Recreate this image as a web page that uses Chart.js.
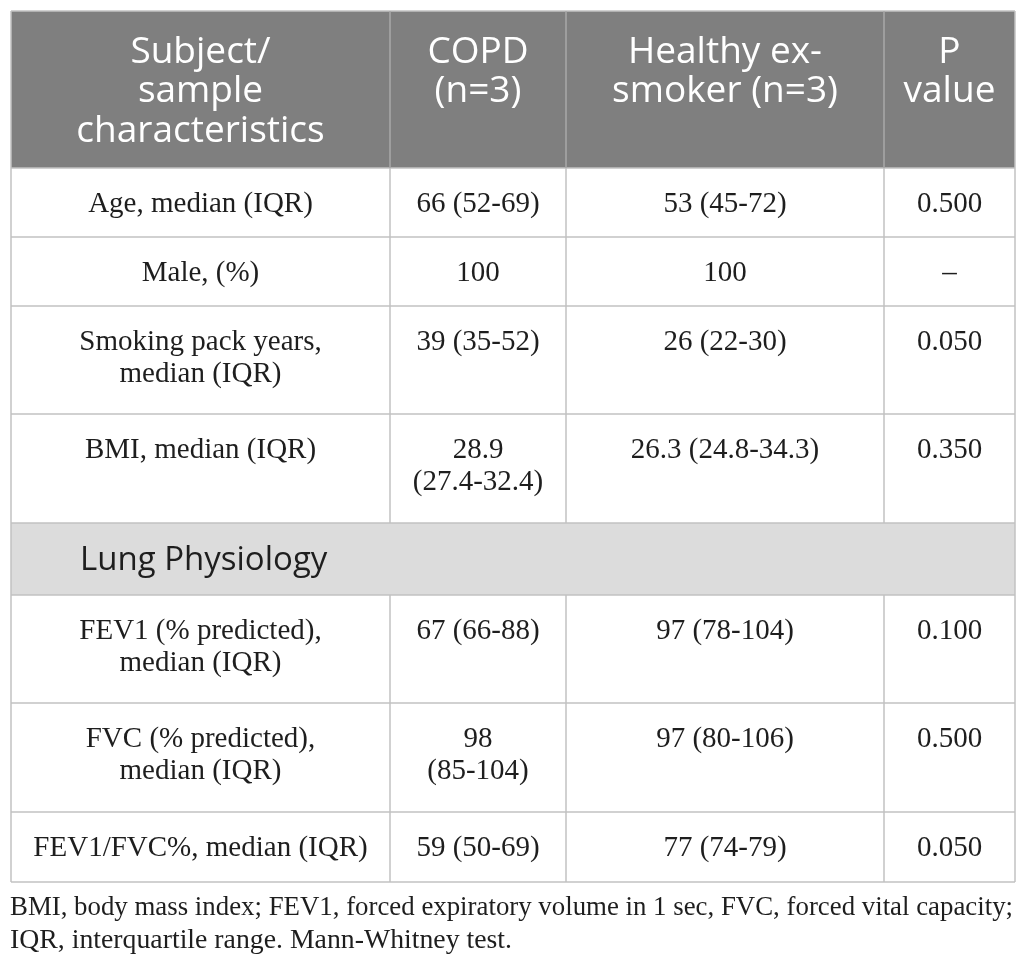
<!DOCTYPE html>
<html>
<head>
  <title>Subject and sample characteristics</title>
  <script src="https://cdn.jsdelivr.net/npm/chart.js"></script>
  <style>
    body { margin: 0; background: #fff; }
    #wrap { width: 1026px; height: 970px; position: relative; }
  </style>
</head>
<body>
  <div id="wrap"><canvas id="chart"></canvas></div>

  <script>

// table content
const headers = ['Subject/\nsample\ncharacteristics', 'COPD\n(n=3)', 'Healthy ex-\nsmoker (n=3)', 'P\nvalue'];
const characteristics = ['Age, median (IQR)', 'Male, (%)', 'Smoking pack years,\nmedian (IQR)', 'BMI, median (IQR)',
  'Lung Physiology', 'FEV1 (% predicted),\nmedian (IQR)', 'FVC (% predicted),\nmedian (IQR)', 'FEV1/FVC%, median (IQR)'];
const copdValues = ['66 (52-69)', '100', '39 (35-52)', '28.9\n(27.4-32.4)', null, '67 (66-88)', '98\n(85-104)', '59 (50-69)'];
const healthyValues = ['53 (45-72)', '100', '26 (22-30)', '26.3 (24.8-34.3)', null, '97 (78-104)', '97 (80-106)', '77 (74-79)'];
const pValues = ['0.500', '\u2013', '0.050', '0.350', null, '0.100', '0.500', '0.050'];
const footnotes = ['BMI, body mass index; FEV1, forced expiratory volume in 1 sec, FVC, forced vital capacity;',
  'IQR, interquartile range. Mann-Whitney test.'];

// layout (in scale units, which map 1:1 onto the canvas)
const colEdges = [11, 390, 566, 884, 1015];
const rowEdges = [11, 168, 237, 306, 414, 523, 595, 703, 812, 882];
const headerBaselines = [63, 102, 142];
const footBaselines = [915, 948];
const footWidths = [1003, 502];

const tablePlugin = {
  id: 'table',
  afterDraw(chart) {
    const ctx = chart.ctx;
    const xs = chart.scales.x, ys = chart.scales.y;
    const X = v => xs.getPixelForValue(v);
    const Y = v => ys.getPixelForValue(v);
    const left = X(colEdges[0]), right = X(colEdges[4]);

    ctx.save();
    // header background
    ctx.fillStyle = '#7f7f7f';
    ctx.fillRect(left, Y(rowEdges[0]), right - left, Y(rowEdges[1]) - Y(rowEdges[0]));

    // section rows
    const body = [characteristics, copdValues, healthyValues, pValues];
    characteristics.forEach((c, i) => {
      if (copdValues[i] === null) {
        ctx.fillStyle = '#dcdcdc';
        ctx.fillRect(left, Y(rowEdges[i + 1]), right - left, Y(rowEdges[i + 2]) - Y(rowEdges[i + 1]));
      }
    });

    // grid lines
    ctx.lineWidth = 1.5;
    ctx.strokeStyle = '#c2c2c2';
    rowEdges.forEach(r => {
      ctx.beginPath();
      ctx.moveTo(left, Y(r));
      ctx.lineTo(right, Y(r));
      ctx.stroke();
    });
    colEdges.forEach((c, j) => {
      // header dividers
      ctx.strokeStyle = (j === 0 || j === colEdges.length - 1) ? '#c2c2c2' : '#a8a8a8';
      ctx.beginPath();
      ctx.moveTo(X(c), Y(rowEdges[0]));
      ctx.lineTo(X(c), Y(rowEdges[1]));
      ctx.stroke();
      ctx.strokeStyle = '#c2c2c2';
      characteristics.forEach((row, i) => {
        if (copdValues[i] === null && j > 0 && j < colEdges.length - 1) return;
        ctx.beginPath();
        ctx.moveTo(X(c), Y(rowEdges[i + 1]));
        ctx.lineTo(X(c), Y(rowEdges[i + 2]));
        ctx.stroke();
      });
    });

    // header text
    ctx.fillStyle = '#ffffff';
    ctx.font = '37px "Open Sans"';
    ctx.textAlign = 'center';
    ctx.textBaseline = 'alphabetic';
    headers.forEach((h, j) => {
      const cx = X((colEdges[j] + colEdges[j + 1]) / 2);
      h.split('\n').forEach((line, k) => ctx.fillText(line, cx, Y(headerBaselines[k])));
    });

    // body text
    ctx.fillStyle = '#1e1e1e';
    characteristics.forEach((c, i) => {
      const top = rowEdges[i + 1];
      if (copdValues[i] === null) {
        ctx.font = '33px "Open Sans"';
        ctx.textAlign = 'left';
        ctx.fillText(c, X(80), Y(top + 47));
        return;
      }
      ctx.font = '29px "Liberation Serif"';
      ctx.textAlign = 'center';
      body.forEach((col, j) => {
        const cx = X((colEdges[j] + colEdges[j + 1]) / 2);
        col[i].split('\n').forEach((line, k) => ctx.fillText(line, cx, Y(top + 44 + k * 32)));
      });
    });

    // footnote, fitted to the width it takes in the source
    ctx.font = '27px "Liberation Serif"';
    ctx.textAlign = 'left';
    footnotes.forEach((f, k) => {
      const w = ctx.measureText(f).width;
      ctx.save();
      ctx.translate(X(10), Y(footBaselines[k]));
      ctx.scale(footWidths[k] / w, 1);
      ctx.fillText(f, 0, 0);
      ctx.restore();
    });
    ctx.restore();
  }
};

new Chart(document.getElementById('chart').getContext('2d'), {
  type: 'scatter',
  data: { datasets: [{ data: [] }] },
  options: {
    responsive: true,
    maintainAspectRatio: false,
    animation: false,
    layout: { padding: 0 },
    plugins: { legend: { display: false }, tooltip: { enabled: false } },
    scales: {
      x: { type: 'linear', min: 0, max: 1026, display: false },
      y: { type: 'linear', min: 0, max: 970, reverse: true, display: false }
    }
  },
  plugins: [tablePlugin]
});
  </script>
</body>
</html>
